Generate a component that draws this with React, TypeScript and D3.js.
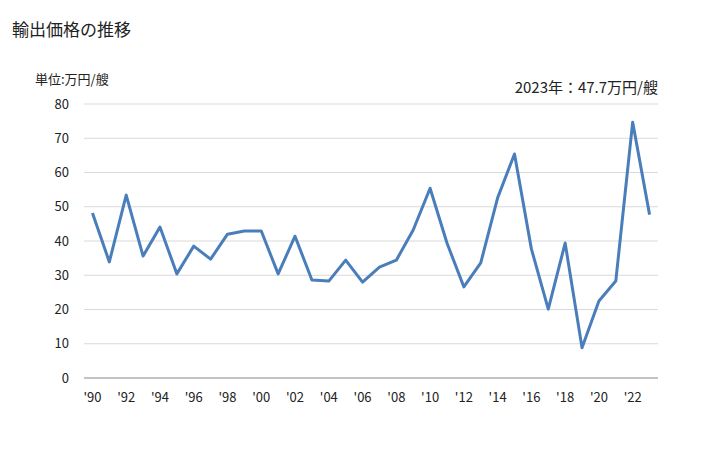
import React from "react";
import * as d3 from "d3";

const years = d3.range(1990, 2024);
const values = [
  48.2, 33.9, 53.4, 35.6, 44.1, 30.4, 38.5, 34.7, 42.0, 42.9,
  42.9, 30.4, 41.4, 28.6, 28.3, 34.4, 28.0, 32.4, 34.4, 43.2,
  55.4, 39.4, 26.6, 33.6, 52.6, 65.4, 37.7, 20.1, 39.4, 8.8,
  22.5, 28.3, 74.7, 47.7,
];
const yTicks = [0, 10, 20, 30, 40, 50, 60, 70, 80];
const xTickYears = years.filter((y) => y % 2 === 0);

const title = "輸出価格の推移";
const unitLabel = "単位:万円/艘";
const annotation = "2023年：47.7万円/艘";

export default function App() {
  const W = 728, H = 450;
  const left = 84, right = 658, top = 104, bottom = 378;
  const x = d3.scaleLinear().domain([1989.5, 2023.5]).range([left, right]);
  const y = d3.scaleLinear().domain([0, 80]).range([bottom, top]);
  const line = d3.line<number>().x((_, i) => x(years[i])).y((d) => y(d));
  const font = "'Noto Sans CJK JP', 'Noto Sans', sans-serif";
  return (
    <svg width={W} height={H} style={{ position: "absolute", left: 0, top: 0, fontFamily: font }}>
      <rect width={W} height={H} fill="#fff" />
      <text x={12} y={36} fontSize={17} fill="#222">{title}</text>
      <text x={35} y={84} fontSize={13} fill="#222">{unitLabel}</text>
      <text x={658} y={93} fontSize={15} fill="#222" textAnchor="end">{annotation}</text>
      {yTicks.map((t) => (
        <g key={t}>
          {t > 0 && <line x1={left} x2={right} y1={y(t)} y2={y(t)} stroke="#d9d9d9" strokeWidth={1} />}
          <text x={69} y={y(t) + 4.5} fontSize={13} textAnchor="end" fill="#222">{t}</text>
        </g>
      ))}
      <line x1={left} x2={right} y1={bottom} y2={bottom} stroke="#888" strokeWidth={1} />
      {xTickYears.map((yr) => (
        <text key={yr} x={x(yr)} y={402} fontSize={13} textAnchor="middle" fill="#222">
          {"'" + String(yr % 100).padStart(2, "0")}
        </text>
      ))}
      <path d={line(values) || ""} fill="none" stroke="#4a7ebb" strokeWidth={3} strokeLinejoin="round" />
    </svg>
  );
}
